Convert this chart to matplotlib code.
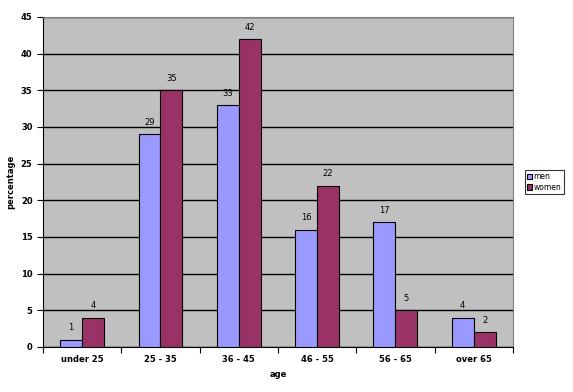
import numpy as np
import matplotlib.pyplot as plt

# data
categories = ["under 25", "25 - 35", "36 - 45", "46 - 55", "56 - 65", "over 65"]
men = [1, 29, 33, 16, 17, 4]
women = [4, 35, 42, 22, 5, 2]

fig = plt.figure(figsize=(5.73, 3.92), dpi=100)
ax = fig.add_axes([0.075, 0.115, 0.82, 0.842])
ax.set_facecolor("#C0C0C0")

x = np.arange(len(categories))
w = 0.28
b1 = ax.bar(x - w / 2, men, w, color="#9999FF", edgecolor="black", linewidth=0.8, label="men", zorder=3)
b2 = ax.bar(x + w / 2, women, w, color="#993366", edgecolor="black", linewidth=0.8, label="women", zorder=3)

for bars, vals in ((b1, men), (b2, women)):
    for r, v in zip(bars, vals):
        ax.text(r.get_x() + r.get_width() / 2, v + 1, str(v), ha="center", va="bottom", fontsize=6)

ax.set_xlim(-0.5, len(categories) - 0.5)
ax.set_ylim(0, 45)
ax.set_yticks(range(0, 46, 5))
ax.yaxis.grid(True, color="black", linewidth=1, zorder=0)
ax.set_axisbelow(True)

ax.set_xticks(np.arange(-0.5, len(categories), 1))
ax.set_xticklabels([])
ax.set_xticks(x, minor=True)
ax.set_xticklabels(categories, minor=True, fontsize=6, fontweight="bold")
ax.tick_params(axis="x", which="minor", length=0, pad=6)
ax.tick_params(axis="x", which="major", length=4)
ax.tick_params(axis="y", labelsize=6, length=4)
for lbl in ax.get_yticklabels():
    lbl.set_fontweight("bold")

for s in ("top", "right"):
    ax.spines[s].set_color("#808080")

ax.set_xlabel("age", fontsize=6, fontweight="bold")
ax.set_ylabel("percentage", fontsize=6, fontweight="bold")

leg = ax.legend(loc="center left", bbox_to_anchor=(1.025, 0.5), fontsize=5.5, frameon=True,
                fancybox=False, edgecolor="black", handlelength=0.7, handleheight=0.7,
                handletextpad=0.2, borderpad=0.3, labelspacing=0.25, borderaxespad=0)
leg.get_frame().set_linewidth(0.8)

fig.savefig("out.png", dpi=100)
